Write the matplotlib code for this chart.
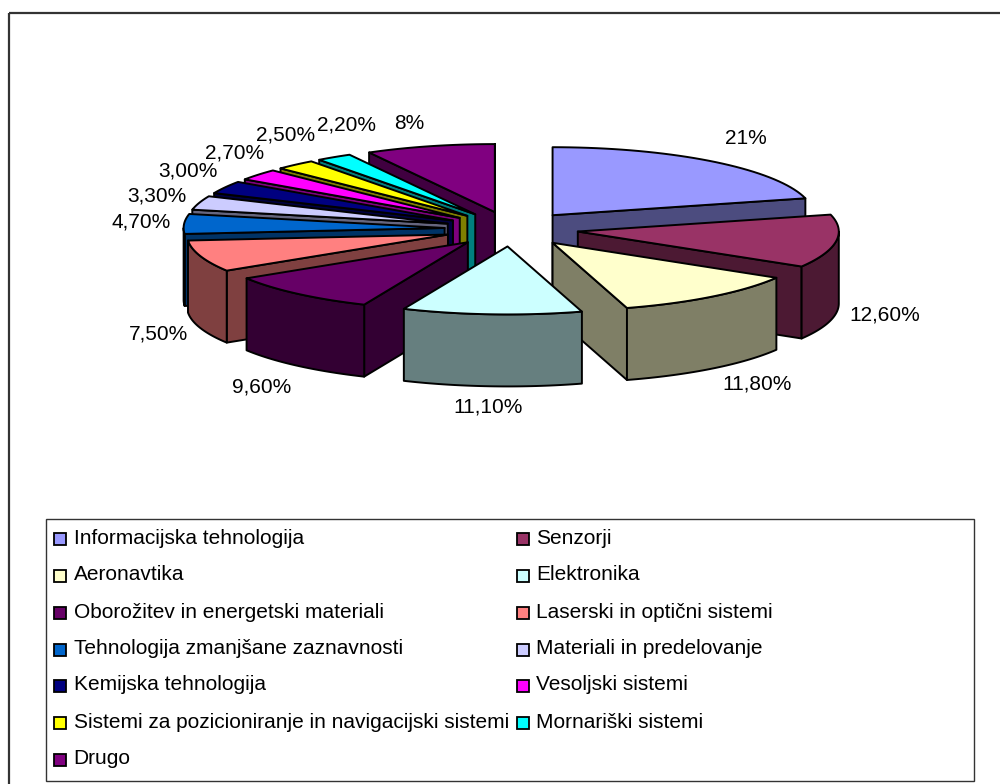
import numpy as np
import matplotlib
matplotlib.use("Agg")
import matplotlib.pyplot as plt
from matplotlib.patches import Rectangle

# chart data
categories = ["Informacijska tehnologija", "Senzorji", "Aeronavtika", "Elektronika",
              "Oborožitev in energetski materiali", "Laserski in optični sistemi",
              "Tehnologija zmanjšane zaznavnosti", "Materiali in predelovanje",
              "Kemijska tehnologija", "Vesoljski sistemi",
              "Sistemi za pozicioniranje in navigacijski sistemi", "Mornariški sistemi", "Drugo"]
values = [21, 12.6, 11.8, 11.1, 9.6, 7.5, 4.7, 3.3, 3.0, 2.7, 2.5, 2.2, 8]
value_labels = ["21%", "12,60%", "11,80%", "11,10%", "9,60%", "7,50%", "4,70%",
                "3,30%", "3,00%", "2,70%", "2,50%", "2,20%", "8%"]
top_colors = ["#9999FF", "#993366", "#FFFFCC", "#CCFFFF", "#660066", "#FF8080", "#0066CC",
              "#CCCCFF", "#000080", "#FF00FF", "#FFFF00", "#00FFFF", "#800080"]
side_colors = ["#4C4C7F", "#4C1933", "#7F7F66", "#667F7F", "#330033", "#7F4040", "#003366",
               "#66667F", "#000040", "#7F007F", "#7F7F00", "#007F7F", "#400040"]

# pie geometry in pixels
CX, CY = 511.5, 229
RX, RY = 261, 68
EXPLODE = 67
DEPTH = 72
LW = 1.4

label_pos = [(746, 138), (885, 315), (757, 384), (488, 407), (262, 387), (159, 334), (141, 222),
             (157, 196), (188, 171), (235, 153), (286, 135), (346, 125), (409, 123)]

fig = plt.figure(figsize=(10, 7.84), dpi=100)
ax = fig.add_axes([0, 0, 1, 1])
ax.set_xlim(0, 1000)
ax.set_ylim(784, 0)
ax.axis("off")
plt.rcParams["font.family"] = "Liberation Sans"

ax.add_patch(Rectangle((9, 12.5), 1100, 1000, fill=False, ec="#333333", lw=1.6))


def poly(pts, color, z):
    pts = np.array(pts)
    ax.fill(pts[:, 0], pts[:, 1], facecolor=color, edgecolor="black", lw=LW,
            joinstyle="round", zorder=z)


def draw_slice(i, start, end, z):
    mid = (start + end) / 2
    ax0 = CX + EXPLODE * np.sin(mid)
    ay0 = CY - EXPLODE * RY / RX * np.cos(mid)
    t = np.linspace(start, end, 40)
    xs = ax0 + RX * np.sin(t)
    ys = ay0 - RY * np.cos(t)
    apex = (ax0, ay0)
    apex_low = (ax0, ay0 + DEPTH)
    # only the faces turned to the viewer: cut faces, then rim, then top
    if np.sin(start) < 0:
        poly([apex, (xs[0], ys[0]), (xs[0], ys[0] + DEPTH), apex_low], side_colors[i], z)
    if np.sin(end) > 0:
        poly([apex, (xs[-1], ys[-1]), (xs[-1], ys[-1] + DEPTH), apex_low], side_colors[i], z + 0.1)
    t0, t1 = max(start, np.pi / 2), min(end, 3 * np.pi / 2)
    if t1 > t0:
        tr = np.linspace(t0, t1, 40)
        rx = ax0 + RX * np.sin(tr)
        ry = ay0 - RY * np.cos(tr)
        poly(np.column_stack([np.r_[rx, rx[::-1]], np.r_[ry, ry[::-1] + DEPTH]]), side_colors[i], z + 0.2)
    poly(np.vstack([[apex], np.column_stack([xs, ys])]), top_colors[i], z + 0.3)


bounds = np.r_[0, np.cumsum(values)] / sum(values) * 2 * np.pi
mids = (bounds[:-1] + bounds[1:]) / 2
order = np.argsort(-np.cos(mids))
for rank, i in enumerate(order):
    draw_slice(i, bounds[i], bounds[i + 1], 2 + rank)

for lab, (x, y) in zip(value_labels, label_pos):
    ax.text(x, y, lab, fontsize=15, ha="center", va="center", color="black", zorder=30)

# legend box, filled row by row in two columns
ax.add_patch(Rectangle((45.5, 518.5), 928.5, 262, fc="white", ec="#333333", lw=1.0, zorder=31))
row_y = [538, 575, 612, 649, 685, 722, 759]
for n, name in enumerate(categories):
    col = n % 2
    y = row_y[n // 2]
    sx = 53.5 if col == 0 else 516.5
    tx = 73.5 if col == 0 else 536.5
    ax.add_patch(Rectangle((sx, y - 5.5), 12, 12, fc=top_colors[n], ec="black", lw=1.3, zorder=32))
    ax.text(tx, y, name, fontsize=15, ha="left", va="center", color="black", zorder=32)

fig.savefig("out.png", dpi=100, facecolor="white")
